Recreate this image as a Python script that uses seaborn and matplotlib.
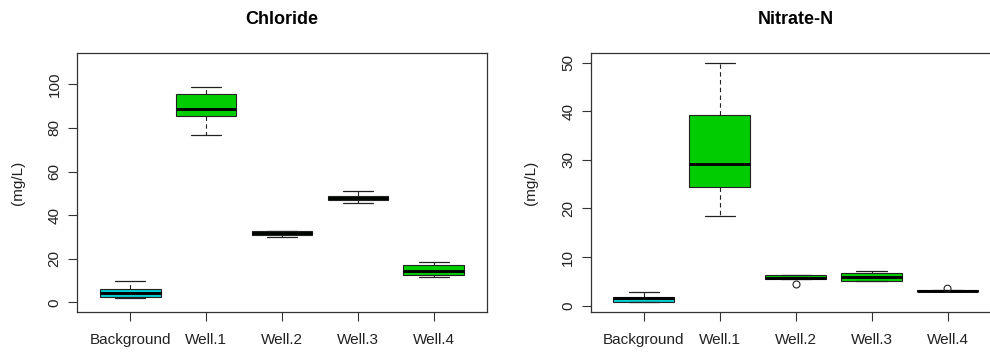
import numpy as np
import pandas as pd
import matplotlib
matplotlib.use("Agg")
import matplotlib.pyplot as plt
import seaborn as sns

# ---- data (five-number summaries: lo whisker, Q1, median, Q3, hi whisker)
sites = ["Background", "Well.1", "Well.2", "Well.3", "Well.4"]

chloride_bg = [1.8, 2.6, 4.5, 6.0, 9.9]
chloride_w1 = [76.9, 85.6, 88.7, 95.7, 98.6]
chloride_w2 = [30.1, 30.9, 31.9, 32.8, 32.9]
chloride_w3 = [45.7, 46.8, 47.7, 49.0, 50.9]
chloride_w4 = [11.7, 12.5, 14.5, 17.1, 18.6]

nitrate_bg = [0.7, 0.8, 1.5, 1.7, 2.75]
nitrate_w1 = [18.5, 24.4, 29.2, 39.2, 50.0]
nitrate_w2 = [5.5, 5.55, 5.75, 6.3, 6.35]
nitrate_w3 = [5.0, 5.0, 6.0, 6.67, 7.2]
nitrate_w4 = [3.0, 3.0, 3.1, 3.2, 3.2]

nitrate_outlier_sites = ["Well.2", "Well.4"]
nitrate_outlier_values = [4.4, 3.5]

chloride_ticks = [0, 20, 40, 60, 80, 100]
nitrate_ticks = [0, 10, 20, 30, 40, 50]

colors = {"Background": "#00CDCD", "Well.1": "#00CD00", "Well.2": "#00CD00",
          "Well.3": "#00CD00", "Well.4": "#00CD00"}


def long_df(groups):
    rows = []
    for s, vals in zip(sites, groups):
        for v in vals:
            rows.append((s, v))
    return pd.DataFrame(rows, columns=["site", "value"])


chloride_df = long_df([chloride_bg, chloride_w1, chloride_w2, chloride_w3, chloride_w4])
nitrate_df = long_df([nitrate_bg, nitrate_w1, nitrate_w2, nitrate_w3, nitrate_w4])
nitrate_out_df = pd.DataFrame({"site": nitrate_outlier_sites, "value": nitrate_outlier_values})

sns.set_style("white")
plt.rcParams["font.family"] = ["Liberation Sans", "DejaVu Sans"]

fig = plt.figure(figsize=(9.9, 3.54), dpi=100)
ax1 = fig.add_axes([77 / 990, 1 - 312 / 354, 410 / 990, 259 / 354])
ax2 = fig.add_axes([590.7 / 990, 1 - 312 / 354, 410 / 990, 259 / 354])

text_col = "#222222"


def draw(ax, df, title, ylim, ticks):
    sns.boxplot(data=df, x="site", y="value", hue="site", order=sites, hue_order=sites,
                palette=colors, saturation=1, legend=False, whis=(0, 100), width=0.8,
                linecolor="black", linewidth=0.8, ax=ax,
                medianprops=dict(color="black", linewidth=2.1, solid_capstyle="butt"),
                whiskerprops=dict(color="#222222", linewidth=0.8, linestyle=(0, (4, 3))),
                capprops=dict(color="#222222", linewidth=0.9),
                boxprops=dict(edgecolor="#222222", linewidth=0.8))
    ax.set_xlim(-0.7, 4.7)
    ax.set_ylim(*ylim)
    ax.set_yticks(ticks)
    ax.set_xlabel("")
    ax.set_ylabel("(mg/L)", fontsize=11, color=text_col)
    ax.yaxis.set_label_coords(-0.128, 0.5)
    ax.set_title(title, fontsize=13, fontweight="bold", pad=21, color="black")
    ax.tick_params(axis="both", direction="out", length=6.2, width=0.8, color="#333333",
                   labelsize=11, labelcolor=text_col, left=True, bottom=True)
    ax.tick_params(axis="y", labelrotation=90, pad=5)
    ax.tick_params(axis="x", pad=9)
    for lab in ax.get_yticklabels():
        lab.set_va("center")
    for sp in ax.spines.values():
        sp.set_color("#333333")
        sp.set_linewidth(0.9)
    ax.grid(False)


draw(ax1, chloride_df, "Chloride", (-4.4, 114.4), chloride_ticks)
draw(ax2, nitrate_df, "Nitrate-N", (-1.3, 52.0), nitrate_ticks)

sns.stripplot(data=nitrate_out_df, x="site", y="value", order=sites, jitter=False,
              color="white", edgecolor="#222222", linewidth=0.8, size=5, ax=ax2, zorder=5)
ax2.collections[-1].set_facecolor("none")
ax2.set_xlim(-0.7, 4.7)
ax2.set_xlabel("")
ax2.set_ylabel("(mg/L)", fontsize=11, color=text_col)
ax2.yaxis.set_label_coords(-0.128, 0.5)

fig.savefig("out.png", dpi=100)
